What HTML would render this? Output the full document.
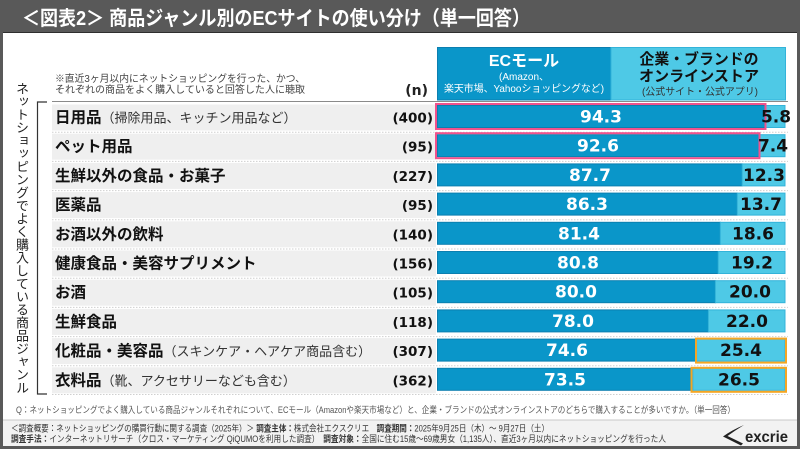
<!DOCTYPE html>
<html lang="ja">
<head>
<meta charset="utf-8">
<style>
  html,body{margin:0;padding:0;background:#fff;}
  body{width:800px;height:449px;overflow:hidden;position:relative;}
  svg{position:absolute;left:0;top:0;}
  .vt{position:absolute;left:13px;top:82px;writing-mode:vertical-rl;font-family:"Liberation Sans","Noto Sans CJK JP",sans-serif;font-size:13px;line-height:16px;letter-spacing:0px;color:#222;white-space:nowrap;}
</style>
</head>
<body>
<svg width="800" height="449" viewBox="0 0 800 449" xmlns="http://www.w3.org/2000/svg" font-family="'Liberation Sans','Noto Sans CJK JP',sans-serif">
  <!-- frame -->
  <rect x="0" y="0" width="800" height="449" fill="#595959"/>
  <rect x="3" y="33" width="794" height="413" fill="#ffffff"/>
  <line x1="3" y1="32.5" x2="797" y2="32.5" stroke="#2e2e2e" stroke-width="1"/>
  <!-- title -->
  <text x="22" y="25" fill="#ffffff" font-size="20" font-weight="bold" textLength="508" lengthAdjust="spacingAndGlyphs">＜図表2＞ 商品ジャンル別のECサイトの使い分け（単一回答）</text>

  <!-- note -->
  <text x="55" y="82" fill="#444" font-size="10" textLength="250" lengthAdjust="spacingAndGlyphs">※直近3ヶ月以内にネットショッピングを行った、かつ、</text>
  <text x="55" y="93" fill="#444" font-size="10" textLength="250" lengthAdjust="spacingAndGlyphs">それぞれの商品をよく購入していると回答した人に聴取</text>
  <text x="428" y="95" fill="#222" font-size="14" font-weight="bold" text-anchor="end" font-family="'DejaVu Sans',sans-serif">(n)</text>

  <!-- legend -->
  <rect x="437.5" y="47.5" width="173.5" height="52.5" fill="#0a96c9" stroke="#0b7fb0" stroke-width="1"/>
  <rect x="611" y="47.5" width="174.5" height="52.5" fill="#4ec9e6" stroke="#33b3d9" stroke-width="1"/>
  <text x="524" y="66" fill="#fff" font-size="16" font-weight="bold" text-anchor="middle">ECモール</text>
  <text x="524" y="80" fill="#fff" font-size="10" text-anchor="middle">(Amazon、</text>
  <text x="524" y="92" fill="#fff" font-size="10" text-anchor="middle" textLength="160" lengthAdjust="spacingAndGlyphs">楽天市場、Yahooショッピングなど)</text>
  <text x="699" y="64" fill="#111" font-size="15" font-weight="bold" text-anchor="middle" textLength="119" lengthAdjust="spacingAndGlyphs">企業・ブランドの</text>
  <text x="699" y="81" fill="#111" font-size="15" font-weight="bold" text-anchor="middle" textLength="120" lengthAdjust="spacingAndGlyphs">オンラインストア</text>
  <text x="700" y="95" fill="#333" font-size="10" text-anchor="middle" textLength="116" lengthAdjust="spacingAndGlyphs">(公式サイト・公式アプリ)</text>

  <!-- bracket -->
  <path d="M47,102 H37.5 V394 H47" fill="none" stroke="#333" stroke-width="1.2"/>

  <!-- row backgrounds -->
  <g fill="#efefef">
    <rect x="52" y="104.5" width="384" height="26"/>
    <rect x="52" y="133.7" width="384" height="26"/>
    <rect x="52" y="162.9" width="384" height="26"/>
    <rect x="52" y="192.1" width="384" height="26"/>
    <rect x="52" y="221.3" width="384" height="26"/>
    <rect x="52" y="250.5" width="384" height="26"/>
    <rect x="52" y="279.7" width="384" height="26"/>
    <rect x="52" y="308.9" width="384" height="26"/>
    <rect x="52" y="338.1" width="384" height="26"/>
    <rect x="52" y="367.3" width="384" height="26"/>
  </g>
  <line x1="52" y1="101.5" x2="788" y2="101.5" stroke="#8a8a8a" stroke-width="1"/>
  <g stroke="#cfcfcf" stroke-width="1" stroke-dasharray="1.5,1.5">
    <line x1="52" y1="132.2" x2="788" y2="132.2"/>
    <line x1="52" y1="161.4" x2="788" y2="161.4"/>
    <line x1="52" y1="190.6" x2="788" y2="190.6"/>
    <line x1="52" y1="219.8" x2="788" y2="219.8"/>
    <line x1="52" y1="249" x2="788" y2="249"/>
    <line x1="52" y1="278.2" x2="788" y2="278.2"/>
    <line x1="52" y1="307.4" x2="788" y2="307.4"/>
    <line x1="52" y1="336.6" x2="788" y2="336.6"/>
    <line x1="52" y1="365.8" x2="788" y2="365.8"/>
    <line x1="52" y1="394.5" x2="788" y2="394.5"/>
  </g>

  <!-- labels -->
  <g fill="#111" font-size="15.5" font-weight="bold">
    <text x="55" y="122.5">日用品<tspan font-size="13" font-weight="normal" fill="#333">（掃除用品、キッチン用品など）</tspan></text>
    <text x="55" y="151.7">ペット用品</text>
    <text x="55" y="180.9">生鮮以外の食品・お菓子</text>
    <text x="55" y="210.1">医薬品</text>
    <text x="55" y="239.3">お酒以外の飲料</text>
    <text x="55" y="268.5">健康食品・美容サプリメント</text>
    <text x="55" y="297.7">お酒</text>
    <text x="55" y="326.9">生鮮食品</text>
    <text x="55" y="356.1">化粧品・美容品<tspan font-size="13" font-weight="normal" fill="#333">（スキンケア・ヘアケア商品含む）</tspan></text>
    <text x="55" y="385.3">衣料品<tspan font-size="13" font-weight="normal" fill="#333">（靴、アクセサリーなども含む）</tspan></text>
  </g>
  <g fill="#111" font-size="13.5" font-weight="bold" text-anchor="end" font-family="'DejaVu Sans',sans-serif">
    <text x="433" y="122.5">(400)</text>
    <text x="433" y="151.7">(95)</text>
    <text x="433" y="180.9">(227)</text>
    <text x="433" y="210.1">(95)</text>
    <text x="433" y="239.3">(140)</text>
    <text x="433" y="268.5">(156)</text>
    <text x="433" y="297.7">(105)</text>
    <text x="433" y="326.9">(118)</text>
    <text x="433" y="356.1">(307)</text>
    <text x="433" y="385.3">(362)</text>
  </g>

  <!-- bars: EC -->
  <g fill="#0a96c9" stroke="#0b7fb0" stroke-width="1">
    <rect x="437.5" y="105.5" width="327.7" height="22"/>
    <rect x="437.5" y="134.7" width="321.7" height="22"/>
    <rect x="437.5" y="163.9" width="304.7" height="22"/>
    <rect x="437.5" y="193.1" width="299.8" height="22"/>
    <rect x="437.5" y="222.3" width="282.8" height="22"/>
    <rect x="437.5" y="251.5" width="280.7" height="22"/>
    <rect x="437.5" y="280.7" width="277.9" height="22"/>
    <rect x="437.5" y="309.9" width="270.9" height="22"/>
    <rect x="437.5" y="339.1" width="259.1" height="22"/>
    <rect x="437.5" y="368.3" width="255.3" height="22"/>
  </g>
  <!-- bars: brand -->
  <g fill="#4ec9e6" stroke="#33b3d9" stroke-width="1">
    <rect x="765.2" y="105.5" width="19.8" height="22"/>
    <rect x="759.2" y="134.7" width="25.8" height="22"/>
    <rect x="742.2" y="163.9" width="42.8" height="22"/>
    <rect x="737.3" y="193.1" width="47.7" height="22"/>
    <rect x="720.3" y="222.3" width="64.7" height="22"/>
    <rect x="718.2" y="251.5" width="66.8" height="22"/>
    <rect x="715.4" y="280.7" width="69.6" height="22"/>
    <rect x="708.4" y="309.9" width="76.6" height="22"/>
    <rect x="696.6" y="339.1" width="88.4" height="22"/>
    <rect x="692.8" y="368.3" width="92.2" height="22"/>
  </g>
  <!-- highlight boxes -->
  <g fill="none" stroke="#f0528c" stroke-width="2">
    <rect x="436" y="104" width="329.5" height="25"/>
    <rect x="436" y="133.2" width="323.5" height="25"/>
  </g>
  <g fill="none" stroke="#f5a623" stroke-width="2">
    <rect x="696" y="338.6" width="90" height="24"/>
    <rect x="691.5" y="367.8" width="94.5" height="24"/>
  </g>

  <!-- values -->
  <g fill="#fff" font-size="17" font-weight="bold" text-anchor="middle" font-family="'DejaVu Sans',sans-serif">
    <text x="601" y="122.5">94.3</text>
    <text x="598" y="151.7">92.6</text>
    <text x="590" y="180.9">87.7</text>
    <text x="587" y="210.1">86.3</text>
    <text x="579" y="239.3">81.4</text>
    <text x="578" y="268.5">80.8</text>
    <text x="576" y="297.7">80.0</text>
    <text x="573" y="326.9">78.0</text>
    <text x="567" y="356.1">74.6</text>
    <text x="565" y="385.3">73.5</text>
  </g>
  <g fill="#111" font-size="17" font-weight="bold" text-anchor="middle" font-family="'DejaVu Sans',sans-serif">
    <text x="776" y="122.5">5.8</text>
    <text x="773" y="151.7">7.4</text>
    <text x="764" y="180.9">12.3</text>
    <text x="761" y="210.1">13.7</text>
    <text x="753" y="239.3">18.6</text>
    <text x="752" y="268.5">19.2</text>
    <text x="750" y="297.7">20.0</text>
    <text x="747" y="326.9">22.0</text>
    <text x="741" y="356.1">25.4</text>
    <text x="739" y="385.3">26.5</text>
  </g>

  <!-- question -->
  <text x="16" y="413" fill="#555" font-size="9" textLength="719" lengthAdjust="spacingAndGlyphs">Q：ネットショッピングでよく購入している商品ジャンルそれぞれについて、ECモール（Amazonや楽天市場など）と、企業・ブランドの公式オンラインストアのどちらで購入することが多いですか。（単一回答）</text>

  <!-- footer band -->
  <rect x="3" y="420" width="794" height="26" fill="#f2f2f2"/>
  <line x1="3" y1="420" x2="797" y2="420" stroke="#c8c8c8" stroke-width="1"/>
  <text x="11" y="431.5" fill="#333" font-size="9" textLength="538" lengthAdjust="spacingAndGlyphs">＜調査概要：ネットショッピングの購買行動に関する調査（2025年）＞ <tspan font-weight="bold">調査主体：</tspan>株式会社エクスクリエ　<tspan font-weight="bold">調査期間：</tspan>2025年9月25日（木）～ 9月27日（土）</text>
  <text x="11" y="442" fill="#333" font-size="9" textLength="655" lengthAdjust="spacingAndGlyphs"><tspan font-weight="bold">調査手法：</tspan>インターネットリサーチ（クロス・マーケティング QiQUMOを利用した調査）　<tspan font-weight="bold">調査対象：</tspan>全国に住む15歳～69歳男女（1,135人）、直近3ヶ月以内にネットショッピングを行った人</text>

  <!-- logo -->
  <path d="M744,425 Q732,430 723,436.5 L741,445.5 L743,443.5 L727.5,436 Q735,430.5 744,425 Z" fill="#222"/>
  <text x="745" y="442" fill="#222" font-size="15.5" font-weight="bold" textLength="43" lengthAdjust="spacingAndGlyphs">excrie</text>
</svg>
<div class="vt">ネットショッピングでよく購入している商品ジャンル</div>
</body>
</html>
